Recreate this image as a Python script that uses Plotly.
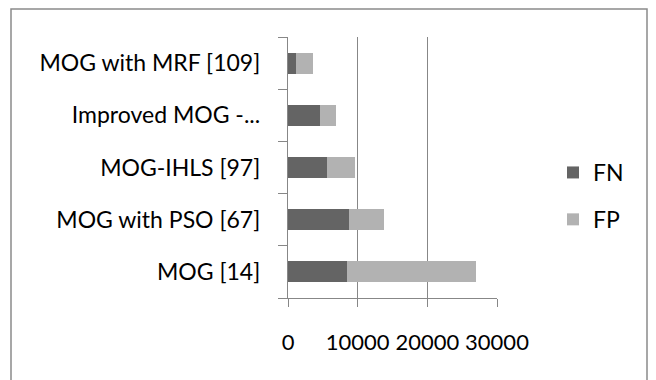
import plotly.graph_objects as go

categories = ["MOG [14]", "MOG with PSO [67]", "MOG-IHLS [97]", "Improved MOG -...", "MOG with MRF [109]"]
fn_values = [8530, 8720, 5560, 4550, 1200]
fp_values = [18480, 5130, 4070, 2350, 2450]
x_ticks = [0, 10000, 20000, 30000]
x_tick_labels = ["0", "10000", "20000", "30000"]

FONT = "Lato, 'Open Sans', sans-serif"
W, H = 656, 380
L, R, T, B = 288, 159, 37, 82

fig = go.Figure()
fig.add_trace(go.Bar(y=categories, x=fn_values, name="FN", orientation="h",
                     marker=dict(color="#646464", line=dict(width=0)), legendgroup="a"))
fig.add_trace(go.Bar(y=categories, x=fp_values, name="FP", orientation="h",
                     marker=dict(color="#b2b2b2", line=dict(width=0)), legendgroup="b"))

pw = W - L - R
ph = H - T - B
def px_x(p):
    return (p - L) / pw
def px_y(p):
    return (H - B - p) / ph

fig.update_layout(
    width=W, height=H,
    margin=dict(l=L, r=R, t=T, b=B, pad=0),
    barmode="stack", bargap=0.6,
    paper_bgcolor="white", plot_bgcolor="white",
    font=dict(family=FONT, size=23, color="black"),
    showlegend=True,
    legend=dict(x=px_x(553), y=px_y(151), xanchor="left", yanchor="top",
                traceorder="grouped", tracegroupgap=14,
                font=dict(size=23), bgcolor="rgba(0,0,0,0)", itemwidth=30),
    xaxis=dict(range=[0, 30000], tickvals=x_ticks, ticktext=x_tick_labels,
               tickfont=dict(size=22),
               showgrid=True, gridcolor="#878787", gridwidth=1.4,
               showline=True, linecolor="#878787", linewidth=1.4,
               ticks="outside", ticklen=8, tickcolor="#878787", tickwidth=1.4,
               ticklabelstandoff=16, zeroline=False, fixedrange=True),
    yaxis=dict(type="category", categoryorder="array", categoryarray=categories,
               showline=True, linecolor="#878787", linewidth=1.4,
               ticks="outside", ticklen=9, tickcolor="#878787", tickwidth=1.4,
               tickson="boundaries", ticklabelstandoff=22, showgrid=False, fixedrange=True),
    shapes=[dict(type="rect", xref="paper", yref="paper",
                 x0=px_x(11), x1=px_x(647), y0=px_y(9), y1=px_y(395),
                 line=dict(color="#8a8a8a", width=1.5), fillcolor="rgba(0,0,0,0)", layer="below")],
)

fig.write_html("out.html", config={"displayModeBar": False},
               post_script="document.body.style.margin='0';")
